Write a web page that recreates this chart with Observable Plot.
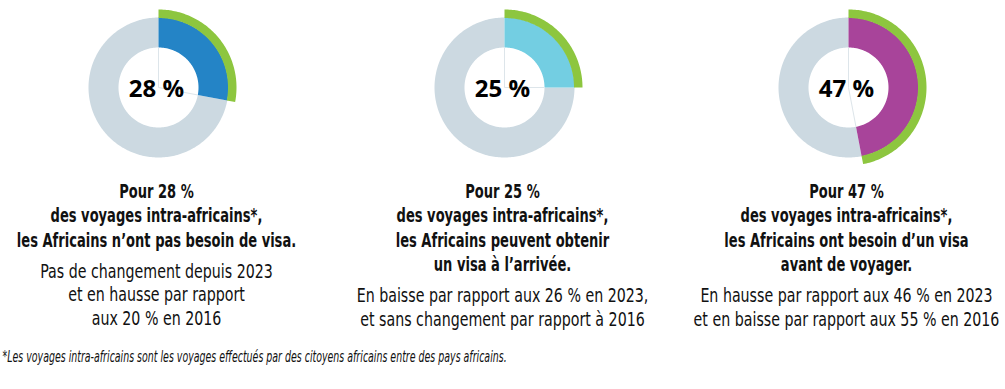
<!DOCTYPE html>
<html><head><meta charset="utf-8">
<script src="https://cdn.jsdelivr.net/npm/d3@7"></script>
<script src="https://cdn.jsdelivr.net/npm/@observablehq/plot@0.6"></script>
<style>
html,body{margin:0;padding:0;background:#fff;}
#chart svg{display:block;}
</style></head><body><div id="chart"></div>
<script>
// ---------- data ----------
const categories = ["Sans visa", "Visa à l’arrivée", "Visa avant de voyager"];
const shares2024 = [28, 25, 47];
const centerLabels = ["28 %", "25 %", "47 %"];
const headlines = [
  "Pour 28 %\ndes voyages intra-africains*,\nles Africains n’ont pas besoin de visa.",
  "Pour 25 %\ndes voyages intra-africains*,\nles Africains peuvent obtenir\nun visa à l’arrivée.",
  "Pour 47 %\ndes voyages intra-africains*,\nles Africains ont besoin d’un visa\navant de voyager."
];
const notes = [
  "Pas de changement depuis 2023\net en hausse par rapport\naux 20 % en 2016",
  "En baisse par rapport aux 26 % en 2023,\net sans changement par rapport à 2016",
  "En hausse par rapport aux 46 % en 2023\net en baisse par rapport aux 55 % en 2016"
];
const footnote = "*Les voyages intra-africains sont les voyages effectués par des citoyens africains entre des pays africains.";

// ---------- layout & style ----------
const W = 1005, H = 389;
const colX = [158, 504, 848];
const cy = 87;
const rInner = 40, rOuter = 70, rHalo = 78;
const sliceColors = ["#2484C6", "#73CEE2", "#A8449A"];
const restColor = "#CCD9E1";
const haloColor = "#8DC63F";
const condensed = "'DejaVu Sans Condensed', 'DejaVu Sans', sans-serif";

function ring(cx, v0, v1, r0, r1) {
  const pts = [];
  const n = Math.max(4, Math.ceil(Math.abs(v1 - v0) * 3));
  for (let k = 0; k <= n; k++) {
    const a = (v0 + (v1 - v0) * k / n) / 100 * 2 * Math.PI;
    pts.push({x: cx + r1 * Math.sin(a), y: cy - r1 * Math.cos(a)});
  }
  for (let k = n; k >= 0; k--) {
    const a = (v0 + (v1 - v0) * k / n) / 100 * 2 * Math.PI;
    pts.push({x: cx + r0 * Math.sin(a), y: cy - r0 * Math.cos(a)});
  }
  return pts;
}

const marks = [];
categories.forEach((c, i) => {
  const v = shares2024[i], cx = colX[i];
  marks.push(Plot.line(ring(cx, v, 100, rInner, rOuter), {x: "x", y: "y", fill: restColor, stroke: "none"}));
  marks.push(Plot.line(ring(cx, 0, v, rInner, rOuter), {x: "x", y: "y", fill: sliceColors[i], stroke: "none"}));
  marks.push(Plot.line(ring(cx, 0, v, rOuter - 0.5, rHalo), {x: "x", y: "y", fill: haloColor, stroke: "none"}));
  const a = v / 100 * 2 * Math.PI;
  marks.push(Plot.link([{x1: cx, y1: cy, x2: cx, y2: cy - rInner}, {x1: cx, y1: cy, x2: cx + rInner * Math.sin(a), y2: cy - rInner * Math.cos(a)}],
    {x1: "x1", y1: "y1", x2: "x2", y2: "y2", stroke: "#dde5ea", strokeWidth: 1}));
});

const colData = categories.map((c, i) => ({
  x: colX[i] - 2, cy, label: centerLabels[i], head: headlines[i], note: notes[i],
  nHead: headlines[i].split("\n").length
}));

marks.push(Plot.text(colData, {x: "x", y: "cy", text: "label", fontSize: 24, fontWeight: "bold",
  fontFamily: "'Open Sans', sans-serif", fill: "#000", textAnchor: "middle", lineAnchor: "middle", dy: 2}));
marks.push(Plot.text(colData, {x: "x", y: () => 180, text: "head", fontSize: 20, fontWeight: "bold",
  fontFamily: condensed, fill: "#111", textAnchor: "middle", lineAnchor: "top", lineHeight: 24.5 / 20}));
marks.push(Plot.text(colData, {x: "x", y: d => 195 + (d.nHead - 1) * 24.5 + 31 - 14.5, text: "note", fontSize: 20,
  fontWeight: "normal", fontFamily: condensed, fill: "#111", textAnchor: "middle", lineAnchor: "top", lineHeight: 23.5 / 20}));
marks.push(Plot.text([footnote], {x: () => 2, y: () => 351, text: d => d, fontSize: 15, fontStyle: "italic",
  fontFamily: condensed, fill: "#111", textAnchor: "start", lineAnchor: "top"}));

const svg = Plot.plot({
  width: W, height: H, margin: 0,
  x: {domain: [0, W], range: [0, W], axis: null},
  y: {domain: [0, H], range: [0, H], axis: null},
  marks
});

// horizontal condensing of text groups (mimics a condensed typeface)
const groups = d3.select(svg).selectAll('g[aria-label="text"]').nodes();
const scales = [1, 0.726, 0.79, 0.7];
groups.forEach((g, gi) => {
  d3.select(g).selectAll("text").each(function() {
    const t = this.getAttribute("transform") || "";
    this.setAttribute("transform", t + ` scale(${scales[gi]},1)`);
  });
});
document.getElementById("chart").appendChild(svg);
</script></body></html>
